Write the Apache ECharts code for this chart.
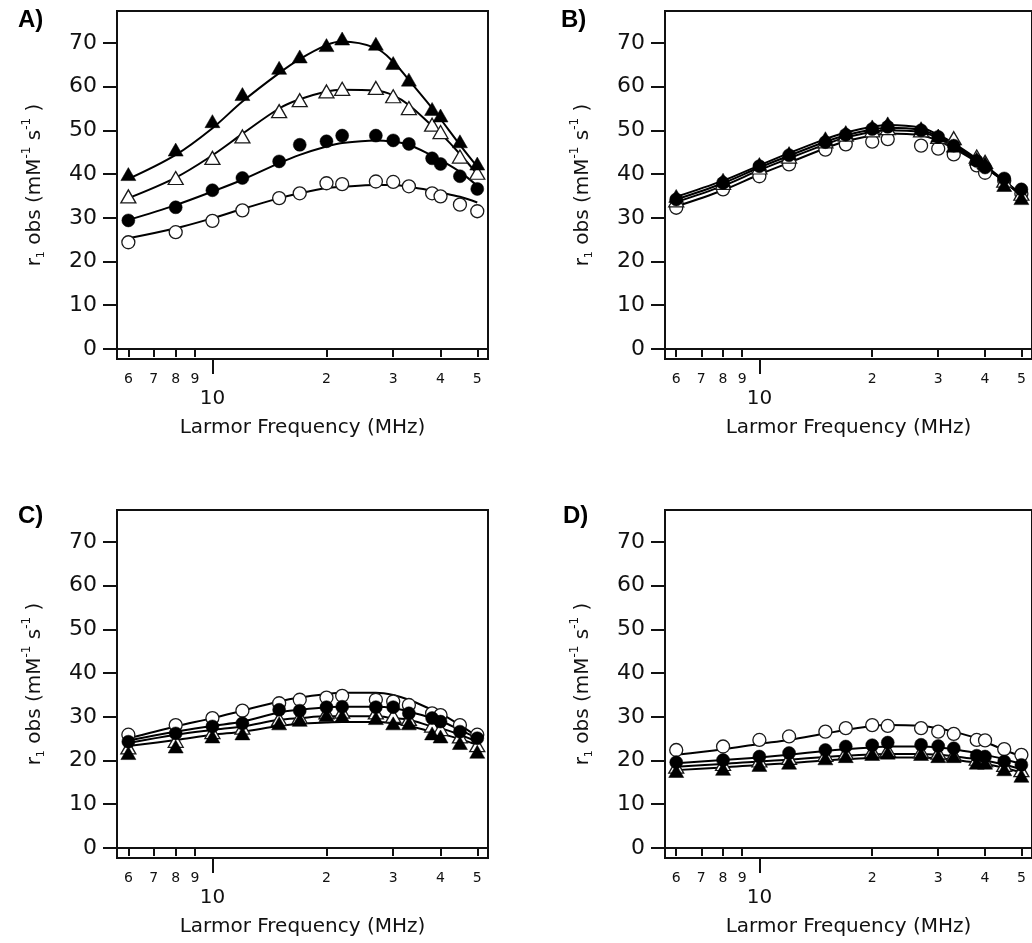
<!DOCTYPE html>
<html>
<head>
<meta charset="utf-8">
<script src="https://cdn.jsdelivr.net/npm/echarts@6/dist/echarts.min.js"></script>
<style>
html,body{margin:0;padding:0;background:#fff;}
#chart{width:1032px;height:943px;}
</style>
</head>
<body>
<div id="chart"></div>
<script>
// ---------------- DATA ----------------
const freqs = [6, 8, 10, 12, 15, 17, 20, 22, 27, 30, 33, 38, 40, 45, 50];

const xMinorTicks = [6, 7, 8, 9, 20, 30, 40, 50];
const xMinorLabels = ['6', '7', '8', '9', '2', '3', '4', '5'];
const xMajorTicks = [10];
const xMajorLabels = ['10'];
const yTicks = [0, 10, 20, 30, 40, 50, 60, 70];

// Panel A
const A_openCirc   = [24.4, 26.7, 29.3, 31.7, 34.5, 35.6, 37.9, 37.7, 38.3, 38.2, 37.2, 35.6, 34.9, 33.0, 31.5];
const A_openTri    = [34.9, 39.1, 43.7, 48.6, 54.4, 56.9, 58.9, 59.5, 59.7, 57.8, 55.1, 51.3, 49.6, 44.0, 40.3];
const A_filledCirc = [29.4, 32.4, 36.3, 39.1, 42.9, 46.7, 47.5, 48.8, 48.8, 47.7, 46.9, 43.6, 42.3, 39.5, 36.6];
const A_filledTri  = [40.0, 45.6, 52.1, 58.3, 64.3, 66.9, 69.5, 71.0, 69.8, 65.4, 61.6, 54.9, 53.4, 47.5, 42.4];
const A_fitOpenCirc   = [25.3, 27.6, 29.9, 32.0, 34.5, 35.6, 36.8, 37.1, 37.5, 37.5, 37.1, 36.2, 35.8, 34.8, 33.5];
const A_fitOpenTri    = [34.5, 39.2, 44.3, 49.2, 55.0, 57.1, 58.9, 59.3, 59.1, 58.0, 55.8, 51.0, 49.3, 44.6, 40.0];
const A_fitFilledCirc = [29.5, 32.9, 36.0, 38.7, 42.5, 44.4, 46.3, 47.1, 47.7, 47.4, 46.7, 44.2, 43.2, 40.5, 37.3];
const A_fitFilledTri  = [38.9, 44.4, 50.5, 56.6, 63.1, 66.3, 69.5, 70.3, 68.8, 65.7, 61.5, 55.1, 52.6, 46.7, 41.7];

// Panel B
const B_openCirc   = [32.3, 36.5, 39.5, 42.2, 45.6, 46.8, 47.4, 48.0, 46.5, 45.8, 44.5, 42.0, 40.3, 38.5, 35.5];
const B_openTri    = [34.0, 38.0, 41.5, 44.0, 47.5, 49.0, 50.0, 50.5, 50.0, 48.5, 48.2, 44.0, 42.8, 38.5, 35.5];
const B_filledCirc = [34.2, 38.0, 41.8, 44.3, 47.3, 49.0, 50.3, 50.8, 50.0, 48.5, 46.5, 43.0, 41.5, 39.0, 36.5];
const B_filledTri  = [35.0, 38.7, 42.3, 44.8, 48.2, 49.6, 50.9, 51.6, 50.5, 48.8, 46.5, 43.5, 42.5, 37.5, 34.5];
const B_fitOpenCirc   = [32.6, 36.3, 39.9, 42.6, 45.9, 47.5, 48.8, 49.3, 48.9, 47.6, 45.9, 42.8, 41.5, 38.4, 35.4];
const B_fitOpenTri    = [34.2, 37.9, 41.5, 44.2, 47.4, 48.9, 50.2, 50.6, 50.1, 48.6, 46.7, 43.3, 41.8, 38.3, 35.0];
const B_fitFilledCirc = [33.6, 37.3, 40.9, 43.6, 46.8, 48.4, 49.6, 50.0, 49.6, 48.2, 46.3, 43.1, 41.6, 38.3, 35.1];
const B_fitFilledTri  = [34.8, 38.5, 42.0, 44.8, 48.0, 49.5, 50.8, 51.2, 50.6, 49.0, 47.0, 43.5, 42.0, 38.5, 35.0];

// Panel C
const C_openCirc   = [25.9, 28.1, 29.7, 31.4, 33.1, 33.9, 34.4, 34.8, 33.9, 33.5, 32.7, 30.8, 30.4, 28.1, 25.9];
const C_openTri    = [23.0, 24.5, 26.5, 27.5, 29.5, 30.0, 31.0, 31.2, 31.0, 30.2, 29.5, 28.0, 27.2, 25.5, 23.5];
const C_filledCirc = [24.3, 26.2, 27.8, 28.5, 31.6, 31.4, 32.2, 32.3, 32.2, 32.2, 30.8, 29.7, 28.9, 26.6, 25.1];
const C_filledTri  = [21.7, 23.2, 25.5, 26.2, 28.5, 29.3, 30.4, 30.2, 29.7, 28.5, 28.5, 26.2, 25.5, 24.0, 22.0];
const C_fitOpenCirc   = [25.1, 27.8, 29.7, 31.4, 33.5, 34.4, 35.2, 35.5, 35.5, 35.0, 33.9, 31.6, 30.8, 28.1, 25.5];
const C_fitOpenTri    = [24.0, 25.9, 27.0, 27.8, 29.3, 29.7, 30.1, 30.1, 30.1, 29.7, 29.3, 27.8, 27.4, 25.9, 24.3];
const C_fitFilledCirc = [24.6, 26.6, 27.9, 28.9, 31.0, 31.6, 32.2, 32.3, 32.3, 32.0, 31.2, 29.7, 29.1, 27.0, 25.1];
const C_fitFilledTri  = [23.3, 24.7, 25.9, 26.6, 27.9, 28.4, 28.7, 28.8, 28.8, 28.5, 27.9, 26.6, 26.2, 24.9, 23.6];

// Panel D
const D_openCirc   = [22.4, 23.2, 24.7, 25.5, 26.6, 27.4, 28.1, 27.9, 27.4, 26.6, 26.1, 24.7, 24.6, 22.6, 21.3];
const D_openTri    = [18.6, 19.2, 20.0, 20.6, 21.3, 21.8, 22.2, 22.4, 22.1, 21.8, 21.4, 20.4, 20.0, 19.0, 17.8];
const D_filledCirc = [19.6, 20.1, 20.9, 21.7, 22.4, 23.2, 23.5, 24.1, 23.6, 23.3, 22.8, 21.1, 20.9, 19.8, 19.0];
const D_filledTri  = [17.6, 18.1, 19.0, 19.5, 20.5, 21.0, 21.5, 21.8, 21.5, 21.0, 21.0, 19.5, 19.5, 18.0, 16.5];
const D_fitOpenCirc   = [21.3, 22.6, 23.8, 24.7, 26.2, 27.0, 27.9, 28.1, 27.9, 27.4, 26.6, 25.1, 24.3, 22.4, 20.9];
const D_fitOpenTri    = [18.6, 19.2, 19.8, 20.2, 20.8, 21.1, 21.4, 21.5, 21.5, 21.3, 21.0, 20.3, 20.0, 19.1, 18.0];
const D_fitFilledCirc = [19.4, 20.1, 20.7, 21.3, 22.2, 22.6, 23.0, 23.2, 23.2, 23.0, 22.6, 21.7, 21.3, 20.3, 19.2];
const D_fitFilledTri  = [17.8, 18.4, 19.0, 19.4, 20.0, 20.3, 20.6, 20.7, 20.7, 20.5, 20.2, 19.5, 19.2, 18.3, 17.3];

const panelLabels = ['A)', 'B)', 'C)', 'D)'];

// ---------------- CHART ----------------
const FONT = '"DejaVu Sans", Verdana, sans-serif';
const INK = '#111';

const panelData = [
  { openCirc: A_openCirc, openTri: A_openTri, filledCirc: A_filledCirc, filledTri: A_filledTri,
    fitOpenCirc: A_fitOpenCirc, fitOpenTri: A_fitOpenTri, fitFilledCirc: A_fitFilledCirc, fitFilledTri: A_fitFilledTri },
  { openCirc: B_openCirc, openTri: B_openTri, filledCirc: B_filledCirc, filledTri: B_filledTri,
    fitOpenCirc: B_fitOpenCirc, fitOpenTri: B_fitOpenTri, fitFilledCirc: B_fitFilledCirc, fitFilledTri: B_fitFilledTri },
  { openCirc: C_openCirc, openTri: C_openTri, filledCirc: C_filledCirc, filledTri: C_filledTri,
    fitOpenCirc: C_fitOpenCirc, fitOpenTri: C_fitOpenTri, fitFilledCirc: C_fitFilledCirc, fitFilledTri: C_fitFilledTri },
  { openCirc: D_openCirc, openTri: D_openTri, filledCirc: D_filledCirc, filledTri: D_filledTri,
    fitOpenCirc: D_fitOpenCirc, fitOpenTri: D_fitOpenTri, fitFilledCirc: D_fitFilledCirc, fitFilledTri: D_fitFilledTri }
];

const layout = [
  { left: 117, top: 11, lx: 18, ly: 8 },
  { left: 665, top: 11, lx: 561, ly: 8 },
  { left: 117, top: 510, lx: 18, ly: 504 },
  { left: 665, top: 510, lx: 563, ly: 504 }
];
const GW = 371, GH = 348;
const XMIN = 5.6, XMAX = 53.37;

const pairs = arr => freqs.map((f, i) => [f, arr[i]]);
const labelFor = (vals, labels) => v => {
  const idx = vals.findIndex(t => Math.abs(t - v) < 1e-6 * t);
  return idx >= 0 ? labels[idx] : '';
};

const grids = [], xAxes = [], yAxes = [], series = [], graphics = [];

layout.forEach((L, p) => {
  grids.push({
    left: L.left, top: L.top, width: GW, height: GH,
    show: true, borderColor: INK, borderWidth: 2, backgroundColor: 'transparent'
  });
  xAxes.push({
    type: 'log', logBase: 10, gridIndex: p, min: XMIN, max: XMAX, position: 'bottom',
    axisLine: { show: true, lineStyle: { color: INK, width: 2 } },
    axisTick: { show: true, customValues: xMinorTicks, length: 8, lineStyle: { color: INK, width: 2 } },
    axisLabel: { show: true, customValues: xMinorTicks, formatter: labelFor(xMinorTicks, xMinorLabels),
      fontSize: 14, margin: 13, color: INK, fontFamily: FONT },
    splitLine: { show: false }, minorTick: { show: false },
    name: 'Larmor Frequency (MHz)', nameLocation: 'middle', nameGap: 59,
    nameTextStyle: { fontSize: 20, color: INK, fontFamily: FONT }
  });
  xAxes.push({
    type: 'log', logBase: 10, gridIndex: p, min: XMIN, max: XMAX, position: 'bottom', offset: 0,
    axisLine: { show: false },
    axisTick: { show: true, customValues: xMajorTicks, length: 15, lineStyle: { color: INK, width: 2 } },
    axisLabel: { show: true, customValues: xMajorTicks, formatter: labelFor(xMajorTicks, xMajorLabels),
      fontSize: 20, margin: 30, color: INK, fontFamily: FONT },
    splitLine: { show: false }, minorTick: { show: false }
  });
  yAxes.push({
    type: 'value', gridIndex: p, min: -2.3, max: 77.3,
    axisLine: { show: true, lineStyle: { color: INK, width: 2 } },
    axisTick: { show: true, customValues: yTicks, length: 14, lineStyle: { color: INK, width: 2 } },
    axisLabel: { show: true, customValues: yTicks, fontSize: 22, margin: 20, color: INK, fontFamily: FONT },
    splitLine: { show: false },
    name: '{a|r}{s|1}{a| obs (mM}{p|-1}{a| s}{p|-1}{a| )}',
    nameLocation: 'middle', nameGap: 68, nameRotate: 90,
    nameTextStyle: {
      color: INK, fontFamily: FONT,
      rich: {
        a: { fontSize: 20, lineHeight: 28, verticalAlign: 'middle', fontFamily: FONT, color: INK },
        s: { fontSize: 11, lineHeight: 11, verticalAlign: 'bottom', fontFamily: FONT, color: INK, padding: [0, 0, 2, 0] },
        p: { fontSize: 12, lineHeight: 12, verticalAlign: 'top', fontFamily: FONT, color: INK }
      }
    }
  });

  const d = panelData[p];
  const xi = p * 2;
  const fitLine = arr => ({
    type: 'line', xAxisIndex: xi, yAxisIndex: p, data: pairs(arr), smooth: 0.35,
    showSymbol: false, symbol: 'none', silent: true, z: 2,
    lineStyle: { color: '#000', width: 2 }
  });
  series.push(fitLine(d.fitOpenCirc), fitLine(d.fitOpenTri), fitLine(d.fitFilledCirc), fitLine(d.fitFilledTri));

  const markers = (arr, symbol, size, filled, z) => ({
    type: 'scatter', xAxisIndex: xi, yAxisIndex: p, data: pairs(arr),
    symbol: symbol, symbolSize: size, z: z, silent: true,
    itemStyle: filled ? { color: '#000', borderColor: '#000', borderWidth: 0.5, opacity: 1 }
                      : { color: '#fff', borderColor: '#1a1a1a', borderWidth: 1.3, opacity: 1 }
  });
  series.push(
    markers(d.openCirc, 'circle', 13, false, 3),
    markers(d.openTri, 'triangle', [15, 13], false, 4),
    markers(d.filledCirc, 'circle', 13, true, 5),
    markers(d.filledTri, 'triangle', [15, 13], true, 6)
  );

  graphics.push({
    type: 'text', left: L.lx, top: L.ly, z: 10,
    style: { text: panelLabels[p], font: 'bold 24px "Liberation Sans", Arial, sans-serif', fill: '#000' }
  });
});

const chart = echarts.init(document.getElementById('chart'), null, { renderer: 'canvas' });
chart.setOption({
  animation: false,
  backgroundColor: '#fff',
  grid: grids,
  xAxis: xAxes,
  yAxis: yAxes,
  series: series,
  graphic: graphics
});
</script>
</body>
</html>
